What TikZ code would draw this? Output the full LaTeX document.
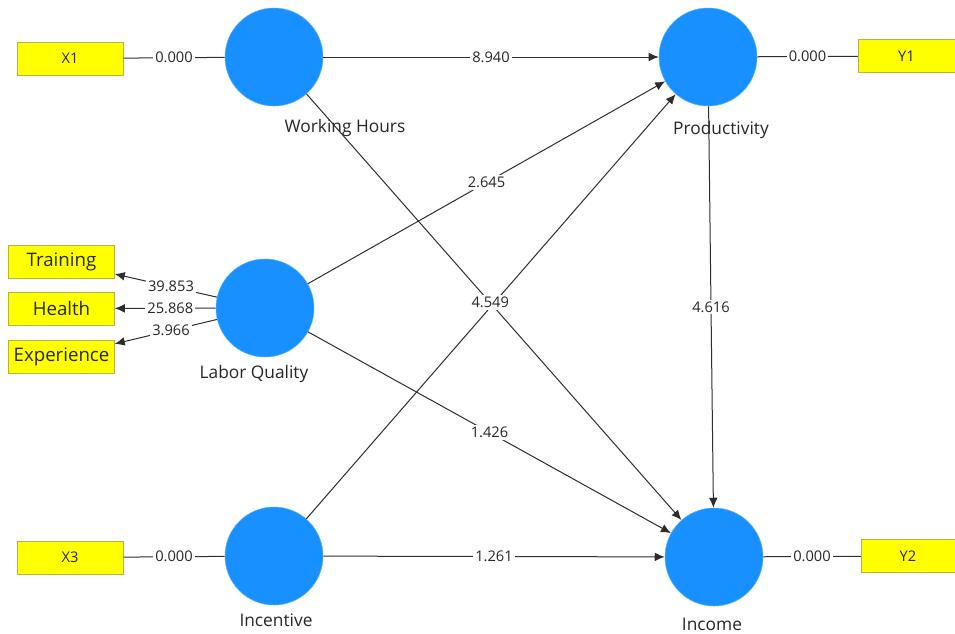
\documentclass[tikz,border=0pt]{standalone}
\usepackage{fontspec}
\setmainfont{Open Sans}
\usetikzlibrary{shapes,arrows,arrows.meta,positioning}

\definecolor{lvblue}{RGB}{24,144,255}
\definecolor{mvyellow}{RGB}{255,255,0}
\definecolor{mvedge}{RGB}{180,180,70}
\definecolor{linkgray}{RGB}{45,45,45}

\begin{document}
\begin{tikzpicture}[x=0.75pt, y=-0.75pt, >={Latex[length=7.5pt,width=6.5pt]},
	latent/.style={circle, fill=lvblue, draw=lvblue!70, minimum size=73.5pt, inner sep=0pt},
	indic/.style={draw=mvedge, fill=mvyellow, minimum width=79.5pt, minimum height=25pt, inner sep=0pt, font=\fontsize{11}{13}\selectfont, text=black!85},
	bigindic/.style={indic, font=\fontsize{14}{16}\selectfont},
	lvname/.style={font=\fontsize{13}{15}\selectfont, text=black!85},
	coef/.style={fill=white, inner sep=1.5pt, font=\fontsize{11}{13}\selectfont, text=black!85},
	link/.style={draw=linkgray, line width=0.75pt}]
			\useasboundingbox (0,0) rectangle (955,633);
			% latent variables
			\node (wh) [latent] at (274,57) {};
			\node (lq) [latent] at (265,308) {};
			\node (inc) [latent] at (274,556) {};
			\node (prod) [latent] at (708,57) {};
			\node (income) [latent] at (714,557) {};
			
			\node (whname) [lvname] at (345,128) {Working Hours};
			\node (lqname) [lvname] at (254,374) {Labor Quality};
			\node (incname) [lvname] at (276,620) {Incentive};
			\node (prodname) [lvname] at (721,130) {Productivity};
			\node (incomename) [lvname] at (712,624) {Income};
			
			% indicators
			\node (x1) [indic] at (70,58.5) {X1};
			\node (x3) [indic] at (70,557.5) {X3};
			\node (y1) [indic, minimum width=72.75pt] at (906.5,56) {Y1};
			\node (y2) [indic, minimum width=70.5pt] at (908,556) {Y2};
			\node (train) [bigindic] at (61.5,262) {Training};
			\node (health) [bigindic] at (61.5,308.5) {Health};
			\node (exper) [bigindic] at (61.5,356.5) {Experience};
			
			% outer model
			\draw[link] (x1) -- node[coef] {0.000} (wh);
			\draw[link] (x3) -- node[coef] {0.000} (inc);
			\draw[link] (prod) -- node[coef] {0.000} (y1);
			\draw[link] (income) -- node[coef] {0.000} (y2);
			\draw[link,->] (lq) -- node[coef, pos=0.45] {39.853} (train);
			\draw[link,->] (lq) -- node[coef, pos=0.45] {25.868} (health);
			\draw[link,->] (lq) -- node[coef, pos=0.45] {3.966} (exper);
			
			% inner model
			\draw[link,->] (wh) -- node[coef] {8.940} (prod);
			\draw[link,->] (lq) -- node[coef] {2.645} (prod);
			\draw[link,->] (inc) -- (prod);
			\draw[link,->] (wh) -- node[coef, pos=0.49] {4.549} (income);
			\draw[link,->] (lq) -- node[coef] {1.426} (income);
			\draw[link,->] (inc) -- node[coef] {1.261} (income);
			\draw[link,->] (prod) -- node[coef] {4.616} (income);
		\end{tikzpicture}
\end{document}
